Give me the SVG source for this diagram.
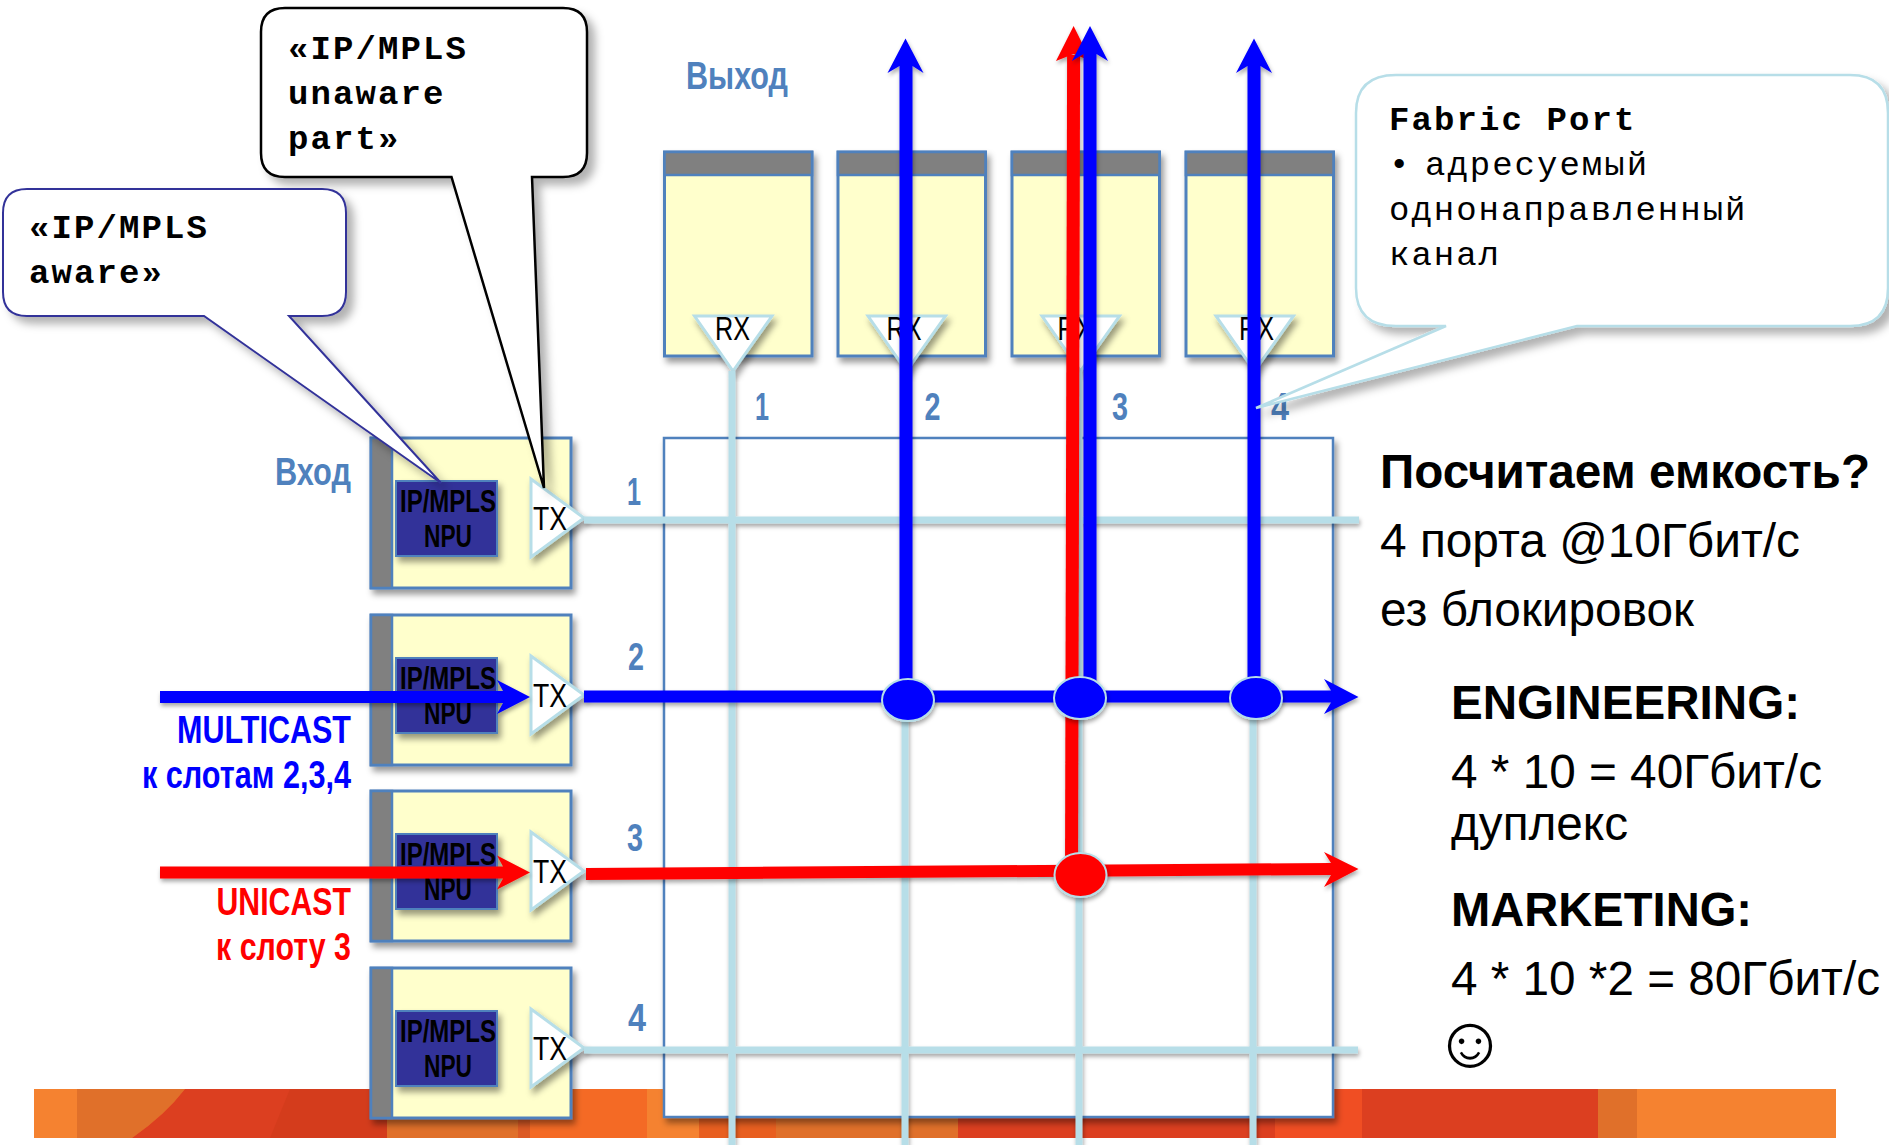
<svg xmlns="http://www.w3.org/2000/svg" xmlns:xlink="http://www.w3.org/1999/xlink" width="1889" height="1145" viewBox="0 0 1889 1145">
<style>
.card{fill:#FFFFCC;stroke:#4F81BD;stroke-width:3}
.bar{fill:#808080;stroke:#4F81BD;stroke-width:2.5}
.npu{fill:#333399;stroke:#4F81BD;stroke-width:2}
.tri{fill:#fff;stroke:#B7DEE8;stroke-width:3}
.npt{font-family:"Liberation Sans",Arial,sans-serif;font-weight:700;font-size:31px;fill:#000}
.tr{font-family:"Liberation Sans",Arial,sans-serif;font-size:33px;fill:#000}
.num{font-family:"Liberation Sans",Arial,sans-serif;font-weight:700;font-size:38px;fill:#4F81BD}
.lab{font-family:"Liberation Sans",Arial,sans-serif;font-weight:700;font-size:38px;fill:#4F81BD}
.call{font-family:"Liberation Mono","Courier New",monospace;font-weight:700;font-size:34px;fill:#000;letter-spacing:2.1px}
.fp{font-family:"Liberation Mono","Courier New",monospace;font-size:34px;fill:#000;letter-spacing:2px}
.blue{fill:#0000FF}.red{fill:#FF0000}
.lb{font-family:"Liberation Sans",Arial,sans-serif;font-weight:700;font-size:38px}
.big{font-family:"Liberation Sans",Arial,sans-serif;font-size:48px;fill:#000}
.bigb{font-family:"Liberation Sans",Arial,sans-serif;font-size:48px;font-weight:700;fill:#000}
.cy{stroke:#B7DEE8;fill:none}
.ov{stroke:#B7DEE8;stroke-width:2}
</style>
<defs>
<filter id="sh" x="-20%" y="-20%" width="140%" height="140%"><feDropShadow dx="3" dy="5" stdDeviation="3" flood-color="#000" flood-opacity=".4"/></filter>
<filter id="shl" x="-5%" y="-300%" width="110%" height="700%"><feDropShadow dx="1" dy="3" stdDeviation="2" flood-color="#000" flood-opacity=".35"/></filter>
<filter id="shc" x="-20%" y="-20%" width="140%" height="140%"><feDropShadow dx="7" dy="7" stdDeviation="4" flood-color="#000" flood-opacity=".3"/></filter>
<g id="ingress">
<rect class="card" x="371" y="0" width="200" height="150" filter="url(#sh)"/>
<rect class="bar" x="371" y="0" width="21" height="150"/>
<rect class="npu" x="396" y="43" width="101" height="75" filter="url(#sh)"/>
<text class="npt" x="448" y="74" text-anchor="middle" textLength="96" lengthAdjust="spacingAndGlyphs">IP/MPLS</text>
<text class="npt" x="448" y="109" text-anchor="middle" textLength="48" lengthAdjust="spacingAndGlyphs">NPU</text>
<polygon class="tri" points="531,41 531,119 584,80" filter="url(#sh)"/>
<text class="tr" x="533" y="92" textLength="34" lengthAdjust="spacingAndGlyphs">TX</text>
</g>
<g id="egress">
<rect class="card" x="664.500" y="152" width="147.500" height="204" filter="url(#sh)"/>
<rect class="bar" x="664.500" y="152" width="147.500" height="23"/>
<polygon class="tri" points="694.500,316 772,316 733,371" filter="url(#sh)"/>
</g>
</defs>
<rect width="1889" height="1145" fill="#fff"/>
<g id="band">
<rect x="34" y="1089" width="1802" height="49" fill="#F58230"/>
<path d="M77 1089H185Q165 1115 132 1138H77Z" fill="#E0702A"/>
<path d="M185 1089H387V1138H132Q165 1115 185 1089Z" fill="#DC3F20"/>
<path d="M290 1089H387V1138H270Z" fill="#D43C1C"/>
<rect x="387" y="1089" width="131" height="49" fill="#E0702A"/>
<rect x="518" y="1089" width="12" height="49" fill="#DC5A25"/>
<rect x="530" y="1089" width="117" height="49" fill="#F46A25"/>
<rect x="699" y="1089" width="77" height="49" fill="#E85F20"/>
<rect x="776" y="1089" width="182" height="49" fill="#E0702A"/>
<rect x="958" y="1089" width="317" height="49" fill="#DC3F20"/>
<rect x="1275" y="1089" width="87" height="49" fill="#F04E23"/>
<rect x="1362" y="1089" width="236" height="49" fill="#DC3F20"/>
<rect x="1598" y="1089" width="39" height="49" fill="#E0702A"/>
</g>
<rect id="matrix" x="664" y="438" width="669" height="679" fill="#fff" stroke="#4F81BD" stroke-width="2.500" filter="url(#sh)"/>
<g id="out1"><use xlink:href="#egress"/><text class="tr" x="715" y="340" textLength="35" lengthAdjust="spacingAndGlyphs">RX</text></g>
<g id="out2"><use xlink:href="#egress" x="173.500"/><text class="tr" x="886.500" y="340" textLength="35" lengthAdjust="spacingAndGlyphs">RX</text></g>
<g id="out3"><use xlink:href="#egress" x="347.500"/><text class="tr" x="1057.500" y="340" textLength="35" lengthAdjust="spacingAndGlyphs">RX</text></g>
<g id="out4"><use xlink:href="#egress" x="521.500"/><text class="tr" x="1239" y="340" textLength="35" lengthAdjust="spacingAndGlyphs">RX</text></g>
<use id="in1" xlink:href="#ingress" y="438"/>
<use id="in2" xlink:href="#ingress" y="615"/>
<use id="in3" xlink:href="#ingress" y="791"/>
<use id="in4" xlink:href="#ingress" y="968"/>
<g id="labels">
<text class="lab" x="275" y="485" textLength="76" lengthAdjust="spacingAndGlyphs">Вход</text>
<text class="lab" x="686" y="89" textLength="102" lengthAdjust="spacingAndGlyphs">Выход</text>
<g text-anchor="middle">
<text class="num" x="762" y="420" textLength="14" lengthAdjust="spacingAndGlyphs">1</text><text class="num" x="932.500" y="420" textLength="16" lengthAdjust="spacingAndGlyphs">2</text><text class="num" x="1120" y="420" textLength="16" lengthAdjust="spacingAndGlyphs">3</text><text class="num" x="1280" y="420" textLength="18" lengthAdjust="spacingAndGlyphs">4</text>
<text class="num" x="634" y="505" textLength="14" lengthAdjust="spacingAndGlyphs">1</text><text class="num" x="636" y="670" textLength="16" lengthAdjust="spacingAndGlyphs">2</text><text class="num" x="635" y="851" textLength="16" lengthAdjust="spacingAndGlyphs">3</text><text class="num" x="637" y="1031" textLength="18" lengthAdjust="spacingAndGlyphs">4</text>
</g>
<text class="lb blue" x="177" y="743" textLength="174" lengthAdjust="spacingAndGlyphs">MULTICAST</text>
<text class="lb blue" x="142" y="788" textLength="209" lengthAdjust="spacingAndGlyphs">к слотам 2,3,4</text>
<text class="lb red" x="216.500" y="915" textLength="134.500" lengthAdjust="spacingAndGlyphs">UNICAST</text>
<text class="lb red" x="216" y="960" textLength="135" lengthAdjust="spacingAndGlyphs">к слоту 3</text>
</g>
<g id="connectors">
<g class="cy" stroke-width="7" filter="url(#shl)">
<line x1="732" y1="371" x2="732" y2="1145"/>
<line x1="905" y1="371" x2="905" y2="1145"/>
<line x1="1079" y1="371" x2="1079" y2="1145"/>
<line x1="1253" y1="371" x2="1253" y2="1145"/>
<line x1="584" y1="520" x2="1359" y2="520"/>
<line x1="584" y1="1050" x2="1358" y2="1050"/>
</g>
<g filter="url(#shl)">
<polygon class="red" points="1067.100,55 1080.100,55 1078,875 1065,875"/>
<polygon class="red" points="1073.600,26 1056,61 1073.600,54 1091,61"/>
<polygon class="blue" points="584,690.500 1331,690.500 1324,679 1358.500,697 1324,714 1331,702.500 584,702.500"/>
<polygon class="red" points="586,868 1331,863 1324,852 1358.500,869 1324,887 1331,875 586,880"/>
</g>
<g filter="url(#shl)">
<polygon class="blue" points="899.500,700 899.500,66 887.500,73 905.500,38.500 923.500,73 912.500,66 912.500,700"/>
<polygon class="blue" points="1083.500,697 1083.500,54 1072,61 1090,26 1108,61 1096.500,54 1096.500,697"/>
<polygon class="blue" points="1247.500,697 1247.500,66 1236,73 1254,38.500 1272,73 1260.500,66 1260.500,697"/>
</g>
<polygon class="blue" points="160,691 503,691 497,680 530,697 497,714 503,703 160,703" filter="url(#shl)"/>
<polygon class="red" points="160,866.500 503,866.500 497,855.500 530,872.500 497,889.500 503,878.500 160,878.500" filter="url(#shl)"/>
<g filter="url(#shl)">
<ellipse class="blue ov" cx="908" cy="700" rx="26" ry="21"/>
<ellipse class="blue ov" cx="1080" cy="698" rx="26" ry="21"/>
<ellipse class="blue ov" cx="1256" cy="698" rx="26" ry="21"/>
<ellipse class="red ov" cx="1080.500" cy="875" rx="26" ry="22"/>
</g>
</g>
<g id="callout-unaware">
<path d="M285 8H563Q587 8 587 32V153Q587 177 563 177H532L544 488L451.500 177H285Q261 177 261 153V32Q261 8 285 8Z" fill="#fff" stroke="#000" stroke-width="2.500" filter="url(#shc)"/>
<text class="call" x="288" y="59">«IP/MPLS</text>
<text class="call" x="288" y="104">unaware</text>
<text class="call" x="288" y="149">part»</text>
</g>
<g id="callout-aware">
<path d="M27 189H322Q346 189 346 213V292Q346 316 322 316H289L441 483L204 316H27Q3 316 3 292V213Q3 189 27 189Z" fill="#fff" stroke="#333399" stroke-width="2" filter="url(#shc)"/>
<text class="call" x="29" y="238">«IP/MPLS</text>
<text class="call" x="29" y="283">aware»</text>
</g>
<g id="callout-fabric">
<path d="M1396 75H1850Q1888 75 1888 113V288Q1888 326 1850 326H1577L1256 408L1446 326H1396Q1356 326 1356 288V113Q1356 75 1396 75Z" fill="#fff" stroke="#B7DEE8" stroke-width="2.500" filter="url(#shc)"/>
<text class="call" x="1389" y="130">Fabric Port</text>
<text class="fp" x="1389" y="175">•<tspan x="1425">адресуемый</tspan></text>
<text class="fp" x="1389" y="220">однонаправленный</text>
<text class="fp" x="1389" y="265">канал</text>
</g>
<g id="notes">
<text class="bigb" x="1380" y="488" textLength="490" lengthAdjust="spacingAndGlyphs">Посчитаем емкость?</text>
<text class="big" x="1380" y="557" textLength="420" lengthAdjust="spacingAndGlyphs">4 порта @10Гбит/с</text>
<text class="big" x="1380" y="626" textLength="314" lengthAdjust="spacingAndGlyphs">ез блокировок</text>
<text class="bigb" x="1451" y="719" textLength="349" lengthAdjust="spacingAndGlyphs">ENGINEERING:</text>
<text class="big" x="1451" y="788" textLength="371" lengthAdjust="spacingAndGlyphs">4 * 10 = 40Гбит/с</text>
<text class="big" x="1451" y="840" textLength="177" lengthAdjust="spacingAndGlyphs">дуплекс</text>
<text class="bigb" x="1451" y="926" textLength="301" lengthAdjust="spacingAndGlyphs">MARKETING:</text>
<text class="big" x="1451" y="995" textLength="429" lengthAdjust="spacingAndGlyphs">4 * 10 *2 = 80Гбит/с</text>
<text x="1470" y="1067" text-anchor="middle" font-family="'Liberation Sans',sans-serif" font-size="74">☺</text>
</g>
</svg>
